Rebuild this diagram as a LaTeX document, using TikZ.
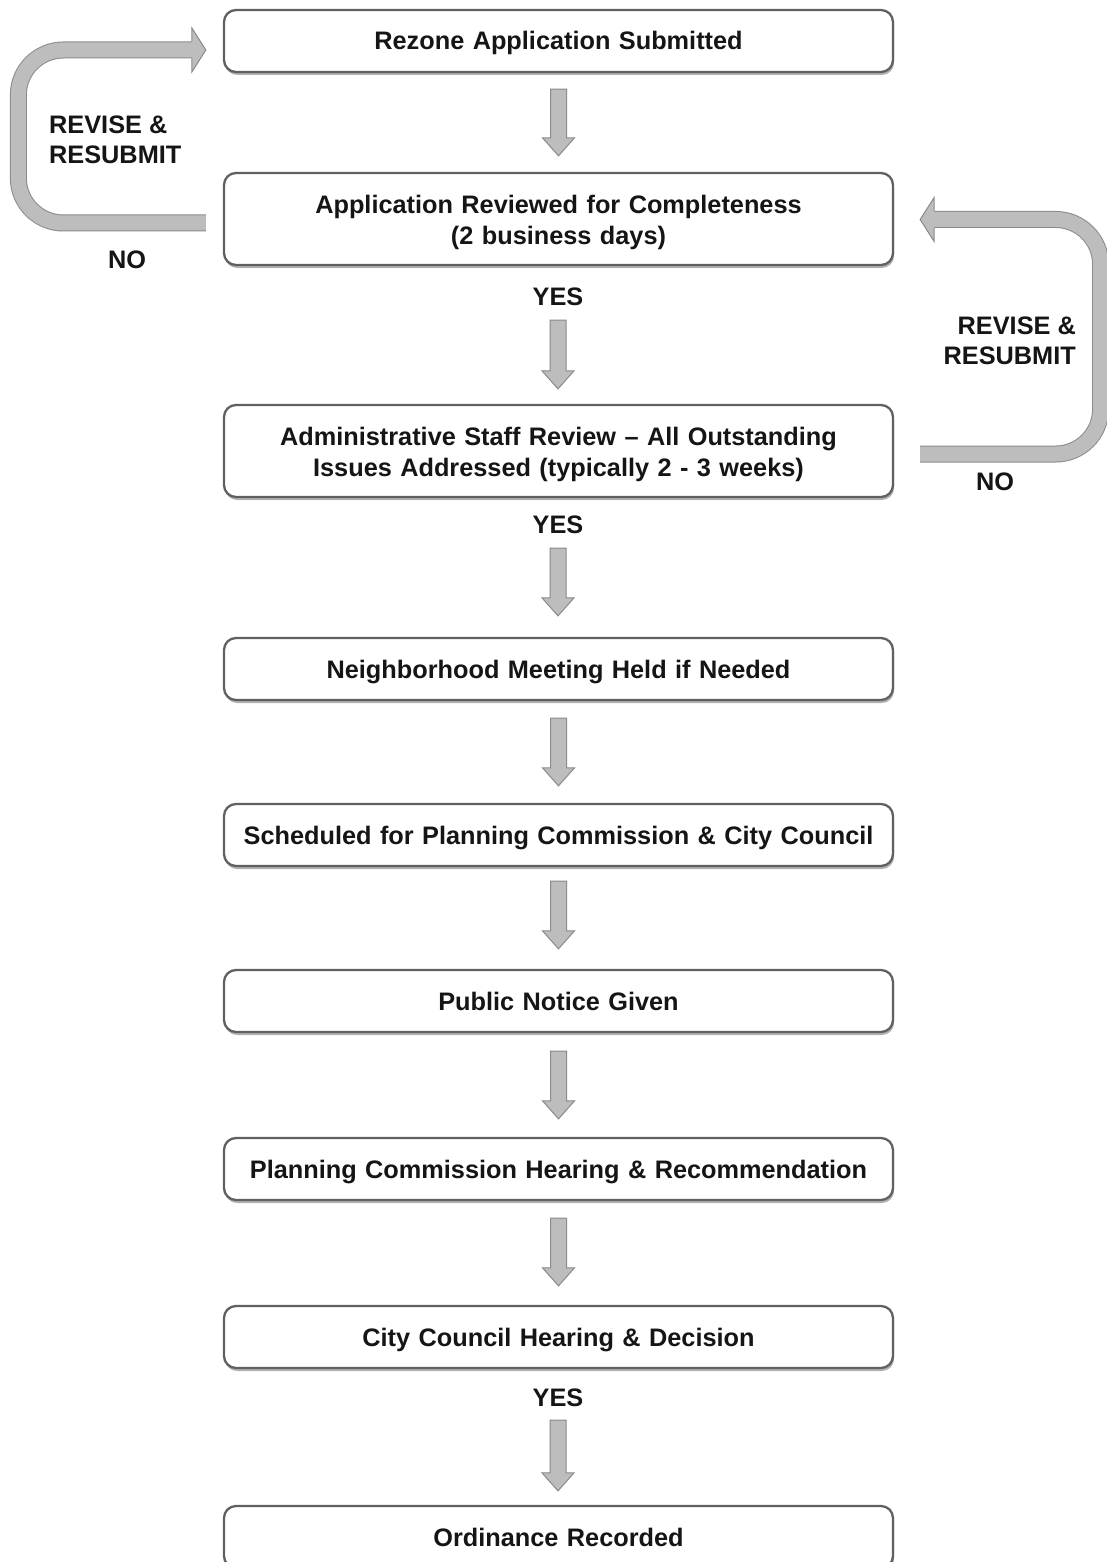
\documentclass[tikz,border=0pt]{standalone}
\usepackage{fontspec}
\setmainfont{Liberation Sans}
\usetikzlibrary{calc,shadows}
\definecolor{arrfill}{HTML}{BDBDBD}
\definecolor{arrline}{HTML}{8A8A8A}
\definecolor{boxline}{HTML}{606060}
\definecolor{txt}{HTML}{151515}
\tikzset{
  stepbox/.style={draw=boxline, line width=2.3pt, rounded corners=12pt, fill=white,
    minimum width=669pt, minimum height=62pt, text width=640pt, align=center, text=txt,
    text height=24pt, text depth=6pt,
    font=\bfseries\fontsize{25.3}{31}\selectfont,
    drop shadow={shadow xshift=1pt, shadow yshift=-3pt, opacity=0.3, fill=black}},
  tallbox/.style={stepbox, minimum height=92pt, text depth=35pt},
  lbl/.style={font=\bfseries\fontsize{25.3}{30}\selectfont, inner sep=0pt, text=txt},
  fatarrow/.style={fill=arrfill, draw=arrline, line width=1pt, line join=miter},
  band/.style={draw=arrfill, line width=15pt, rounded corners=45pt,
    preaction={draw=arrline, line width=17pt}},
}
\newcommand\fatdown[2]{%
  \draw[fatarrow] let \p1=(#1), \p2=(#2) in
    (\x1-8pt,\y1) -- (\x1-8pt,\y2+18pt) -- (\x1-16pt,\y2+18pt) -- (\x1,\y2)
    -- (\x1+16pt,\y2+18pt) -- (\x1+8pt,\y2+18pt) -- (\x1+8pt,\y1) -- cycle;}
\begin{document}
\begin{tikzpicture}[x=1pt,y=-1pt]
\useasboundingbox (0,0) rectangle (1107,1562);
\clip (0,0) rectangle (1107,1562);
\fill[white] (0,0) rectangle (1107,1562);

\node[stepbox] (b1) at (558.5,41) {Rezone Application Submitted};
\node[tallbox] (b2) at (558.5,219) {Application Reviewed for Completeness\\(2 business days)};
\node[lbl] (yes1) at (558,297) {YES};
\node[tallbox] (b3) at (558.5,451) {Administrative Staff Review -- All Outstanding\\Issues Addressed (typically 2 - 3 weeks)};
\node[lbl] (yes2) at (558,525) {YES};
\node[stepbox] (b4) at (558.5,669) {Neighborhood Meeting Held if Needed};
\node[stepbox] (b5) at (558.5,835) {Scheduled for Planning Commission \& City Council};
\node[stepbox] (b6) at (558.5,1001) {Public Notice Given};
\node[stepbox] (b7) at (558.5,1169) {Planning Commission Hearing \& Recommendation};
\node[stepbox] (b8) at (558.5,1337) {City Council Hearing \& Decision};
\node[lbl] (yes3) at (558,1398) {YES};
\node[stepbox] (b9) at (558.5,1537) {Ordinance Recorded};

% down arrows
\fatdown{$(b1.south)+(0,16)$}{$(b2.north)+(0,-16)$}
\fatdown{$(yes1.south)+(0,14)$}{$(b3.north)+(0,-15)$}
\fatdown{$(yes2.south)+(0,14)$}{$(b4.north)+(0,-21)$}
\fatdown{$(b4.south)+(0,17)$}{$(b5.north)+(0,-17)$}
\fatdown{$(b5.south)+(0,14)$}{$(b6.north)+(0,-20)$}
\fatdown{$(b6.south)+(0,18)$}{$(b7.north)+(0,-18)$}
\fatdown{$(b7.south)+(0,17)$}{$(b8.north)+(0,-19)$}
\fatdown{$(yes3.south)+(0,13)$}{$(b9.north)+(0,-14)$}

% left loop (NO -> revise & resubmit)
\coordinate (lstart) at ($(b2.west)+(-17,4)$);
\coordinate (lend) at ($(b1.west)+(-17,9)$);
\draw[band] (lstart) -- ++(-187.5,0) |- ($(lend)+(-13,0)$);
\fill[arrfill] ($(lend)+(-14,-22)$) -- (lend) -- ($(lend)+(-14,22)$) -- cycle;
\draw[arrline, line width=1pt] ($(lend)+(-14,-8.5)$) -- ++(0,-13.5) -- (lend)
  -- ($(lend)+(-14,22)$) -- ++(0,-13.5);
\node[lbl, align=left, anchor=west] (lrev) at (49,140) {REVISE \&\\RESUBMIT};
\node[lbl] (lno) at (127,260) {NO};

% right loop
\coordinate (rstart) at ($(b3.east)+(26,3)$);
\coordinate (rend) at ($(b2.east)+(26,0.5)$);
\draw[band] (rstart) -- ++(180.5,0) |- ($(rend)+(13,0)$);
\fill[arrfill] ($(rend)+(14,-22)$) -- (rend) -- ($(rend)+(14,22)$) -- cycle;
\draw[arrline, line width=1pt] ($(rend)+(14,-8.5)$) -- ++(0,-13.5) -- (rend)
  -- ($(rend)+(14,22)$) -- ++(0,-13.5);
\node[lbl, align=right, anchor=east] (rrev) at (1076,341) {REVISE \&\\RESUBMIT};
\node[lbl] (rno) at (995,482) {NO};
\end{tikzpicture}
\end{document}
